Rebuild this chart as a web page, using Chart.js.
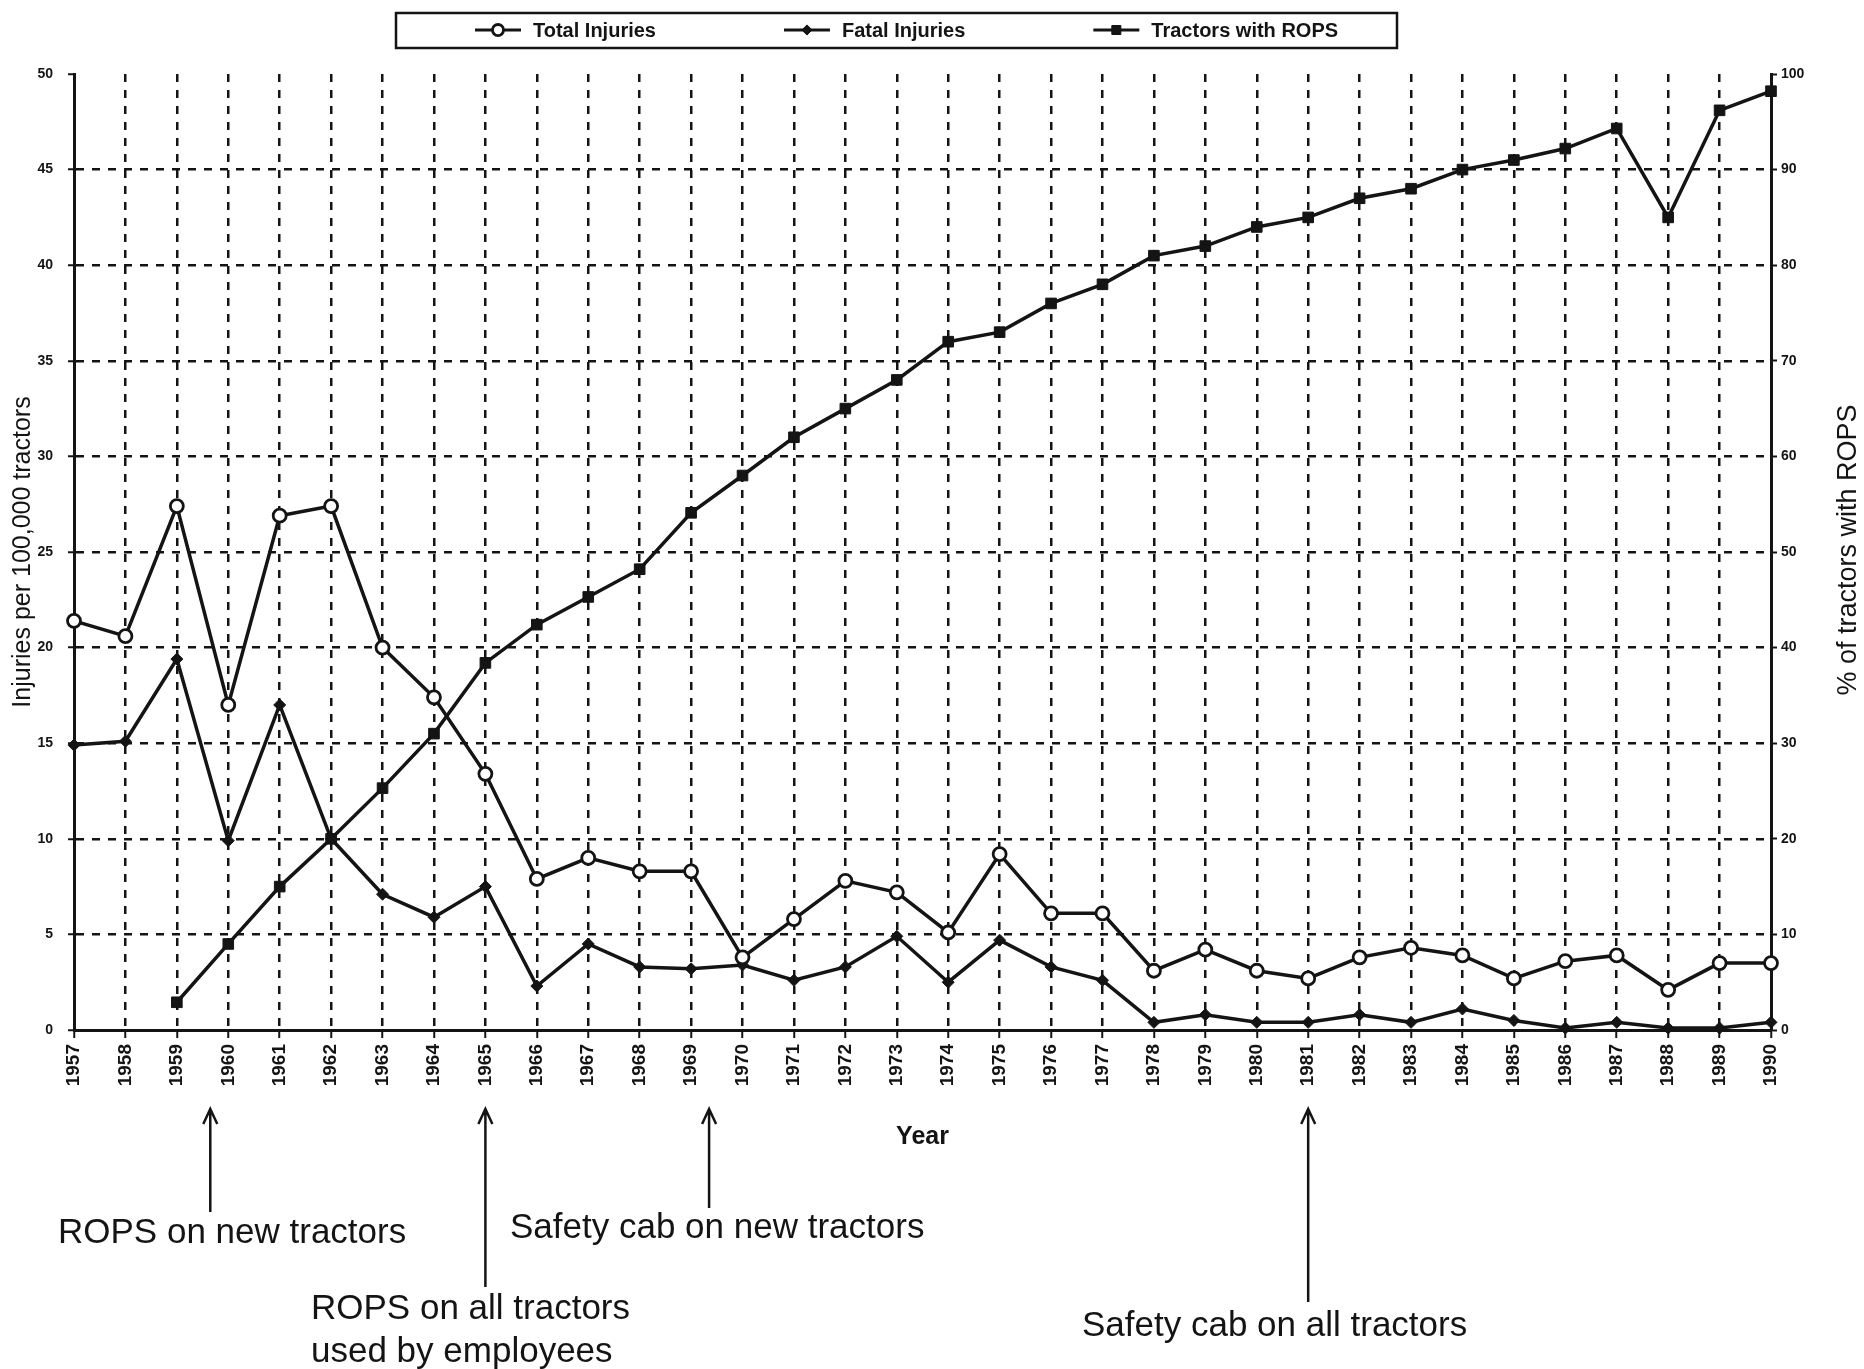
<!DOCTYPE html>
<html>
<head>
<meta charset="utf-8">
<title>Tractor injuries and ROPS</title>
<script src="https://cdn.jsdelivr.net/npm/chart.js@4.4.1/dist/chart.umd.min.js"></script>
<style>
  html, body { margin: 0; padding: 0; background: #fff; }
  #chart { display: block; }
</style>
</head>
<body>
<canvas id="chart" width="1864" height="1369"></canvas>
<script>
// years on the x axis
const years = ['1957', '1958', '1959', '1960', '1961', '1962', '1963', '1964', '1965', '1966',
               '1967', '1968', '1969', '1970', '1971', '1972', '1973', '1974', '1975', '1976',
               '1977', '1978', '1979', '1980', '1981', '1982', '1983', '1984', '1985', '1986',
               '1987', '1988', '1989', '1990'];

// injuries per 100,000 tractors (left axis)
const totalInjuries = [21.4, 20.6, 27.4, 17.0, 26.9, 27.4, 20.0, 17.4, 13.4, 7.9,
                       9.0, 8.3, 8.3, 3.8, 5.8, 7.8, 7.2, 5.1, 9.2, 6.1,
                       6.1, 3.1, 4.2, 3.1, 2.7, 3.8, 4.3, 3.9, 2.7, 3.6,
                       3.9, 2.1, 3.5, 3.5];
const fatalInjuries = [14.9, 15.1, 19.4, 9.9, 17.0, 10.0, 7.1, 5.9, 7.5, 2.3,
                       4.5, 3.3, 3.2, 3.4, 2.6, 3.3, 4.9, 2.5, 4.7, 3.3,
                       2.6, 0.4, 0.8, 0.4, 0.4, 0.8, 0.4, 1.1, 0.5, 0.1,
                       0.4, 0.1, 0.1, 0.4];

// % of tractors with ROPS (right axis)
const ropsShare = [null, null, 2.9, 9, 15, 20, 25.3, 31, 38.4, 42.4,
                   45.3, 48.2, 54.1, 58, 62, 65, 68, 72, 73, 76,
                   78, 81, 82, 84, 85, 87, 88, 90, 91, 92.2,
                   94.3, 85, 96.2, 98.2];

// events marked with arrows below the axis (year)
const eventYears = [1959.65, 1965, 1969.35, 1981];
const eventLabels = [
    ['ROPS on new tractors'],
    ['ROPS on all tractors', 'used by employees'],
    ['Safety cab on new tractors'],
    ['Safety cab on all tractors']
];

const ink = '#141414';
const family = '"Liberation Sans", Arial, sans-serif';

// hide grid lines that sit on top of the axes
const hideEdges = (ctx) => {
    if (ctx.index === 0 || ctx.index === years.length - 1) return 'rgba(0,0,0,0)';
    return ink;
};

// legend in a box at the top
const boxLegend = {
    id: 'boxLegend',
    afterDraw(chart) {
        const ctx = chart.ctx;
        ctx.save();
        ctx.lineWidth = 2.5;
        ctx.strokeStyle = ink;
        ctx.strokeRect(396, 13, 1001, 35);
        ctx.font = 'bold 20px ' + family;
        ctx.textBaseline = 'middle';
        const cy = 30;
        let x = 475;
        chart.data.datasets.forEach(ds => {
            ctx.strokeStyle = ink;
            ctx.lineWidth = 3;
            ctx.beginPath();
            ctx.moveTo(x, cy);
            ctx.lineTo(x + 46, cy);
            ctx.stroke();
            ctx.fillStyle = ds.pointBackgroundColor;
            ctx.strokeStyle = ds.pointBorderColor;
            ctx.lineWidth = ds.pointBorderWidth;
            Chart.helpers.drawPoint(ctx, {
                pointStyle: ds.pointStyle,
                radius: ds.pointRadius * 0.85,
                borderWidth: ds.pointBorderWidth,
                rotation: 0
            }, x + 23, cy);
            ctx.fillStyle = ink;
            ctx.fillText(ds.label, x + 58, cy + 1);
            x += 58 + ctx.measureText(ds.label).width + 128;
        });
        ctx.restore();
    }
};

// right axis title reads bottom to top, like the left one
const rightTitle = {
    id: 'rightTitle',
    afterDraw(chart) {
        const ctx = chart.ctx;
        ctx.save();
        ctx.translate(1849, 550);
        ctx.rotate(-Math.PI / 2);
        ctx.font = '27px ' + family;
        ctx.fillStyle = ink;
        ctx.textAlign = 'center';
        ctx.textBaseline = 'middle';
        ctx.fillText('% of tractors with ROPS', 0, 0);
        ctx.restore();
    }
};

// arrows and notes under the year labels
const eventNotes = {
    id: 'eventNotes',
    afterDraw(chart) {
        const ctx = chart.ctx;
        const xScale = chart.scales.x;
        const arrowTip = 1109;
        const arrowTails = [1212, 1287, 1208, 1302];
        const textLeft = [58, 311, 510, 1082];
        const textTop = [1233, 1309, 1228, 1326];
        ctx.save();
        ctx.strokeStyle = ink;
        ctx.fillStyle = ink;
        ctx.lineWidth = 2.5;
        ctx.font = '35px ' + family;
        ctx.textBaseline = 'middle';
        eventYears.forEach((yr, i) => {
            const px = xScale.getPixelForValue(yr - Number(years[0]));
            ctx.beginPath();
            ctx.moveTo(px, arrowTails[i]);
            ctx.lineTo(px, arrowTip);
            ctx.moveTo(px - 7, arrowTip + 15);
            ctx.lineTo(px, arrowTip);
            ctx.lineTo(px + 7, arrowTip + 15);
            ctx.stroke();
            eventLabels[i].forEach((line, j) => {
                ctx.fillText(line, textLeft[i], textTop[i] + j * 43);
            });
        });
        ctx.restore();
    }
};

const ctx = document.getElementById('chart').getContext('2d');
const chart = new Chart(ctx, {
    type: 'line',
    data: {
        labels: years,
        datasets: [
            {
                label: 'Total Injuries',
                data: totalInjuries,
                yAxisID: 'y',
                borderColor: ink,
                borderWidth: 3.5,
                pointStyle: 'circle',
                pointRadius: 6.5,
                pointBackgroundColor: '#fff',
                pointBorderColor: ink,
                pointBorderWidth: 2.8,
                tension: 0,
                clip: false
            },
            {
                label: 'Fatal Injuries',
                data: fatalInjuries,
                yAxisID: 'y',
                borderColor: ink,
                borderWidth: 3.5,
                pointStyle: 'rectRot',
                pointRadius: 6,
                pointBackgroundColor: ink,
                pointBorderColor: ink,
                pointBorderWidth: 1,
                tension: 0,
                clip: false
            },
            {
                label: 'Tractors with ROPS',
                data: ropsShare,
                yAxisID: 'y2',
                borderColor: ink,
                borderWidth: 3.5,
                pointStyle: 'rect',
                pointRadius: 7.5,
                pointBackgroundColor: ink,
                pointBorderColor: ink,
                pointBorderWidth: 1,
                tension: 0,
                clip: false
            }
        ]
    },
    options: {
        responsive: false,
        animation: false,
        layout: { padding: { top: 74, left: 0, right: 0, bottom: 0 } },
        plugins: {
            legend: { display: false },
            tooltip: { enabled: false }
        },
        scales: {
            x: {
                type: 'category',
                offset: false,
                grid: { color: hideEdges, lineWidth: 2.5, tickColor: ink, tickLength: 8, tickWidth: 2 },
                border: { color: ink, width: 3, dash: [8, 8] },
                ticks: {
                    color: ink,
                    font: { family: family, size: 19, weight: 'bold' },
                    minRotation: 90,
                    maxRotation: 90,
                    autoSkip: false,
                    padding: 6
                },
                title: {
                    display: true,
                    text: 'Year',
                    color: ink,
                    font: { family: family, size: 25, weight: 'bold' },
                    padding: { top: 0, bottom: 217 }
                },
                afterFit: (s) => { s.height = 339; }
            },
            y: {
                position: 'left',
                min: 0,
                max: 50,
                grid: {
                    color: (c) => (c.tick && c.tick.value === 50) ? 'rgba(0,0,0,0)' : ink,
                    lineWidth: 2.5, tickColor: ink, tickLength: 6, tickWidth: 2
                },
                border: { color: ink, width: 3, dash: [8, 8] },
                ticks: {
                    stepSize: 5,
                    color: ink,
                    font: { family: family, size: 14, weight: 'bold' },
                    padding: 15
                },
                title: {
                    display: true,
                    text: 'Injuries per 100,000 tractors',
                    color: ink,
                    font: { family: family, size: 25 },
                    padding: { top: 8, bottom: 0 }
                },
                afterFit: (s) => { s.width = 74; }
            },
            y2: {
                position: 'right',
                min: 0,
                max: 100,
                grid: { drawOnChartArea: false, tickColor: ink, tickLength: 6, tickWidth: 2 },
                border: { color: ink, width: 3 },
                ticks: {
                    stepSize: 10,
                    color: ink,
                    font: { family: family, size: 14, weight: 'bold' },
                    padding: 4
                },
                afterFit: (s) => { s.width = 93; }
            }
        }
    },
    plugins: [boxLegend, rightTitle, eventNotes]
});
</script>
</body>
</html>
